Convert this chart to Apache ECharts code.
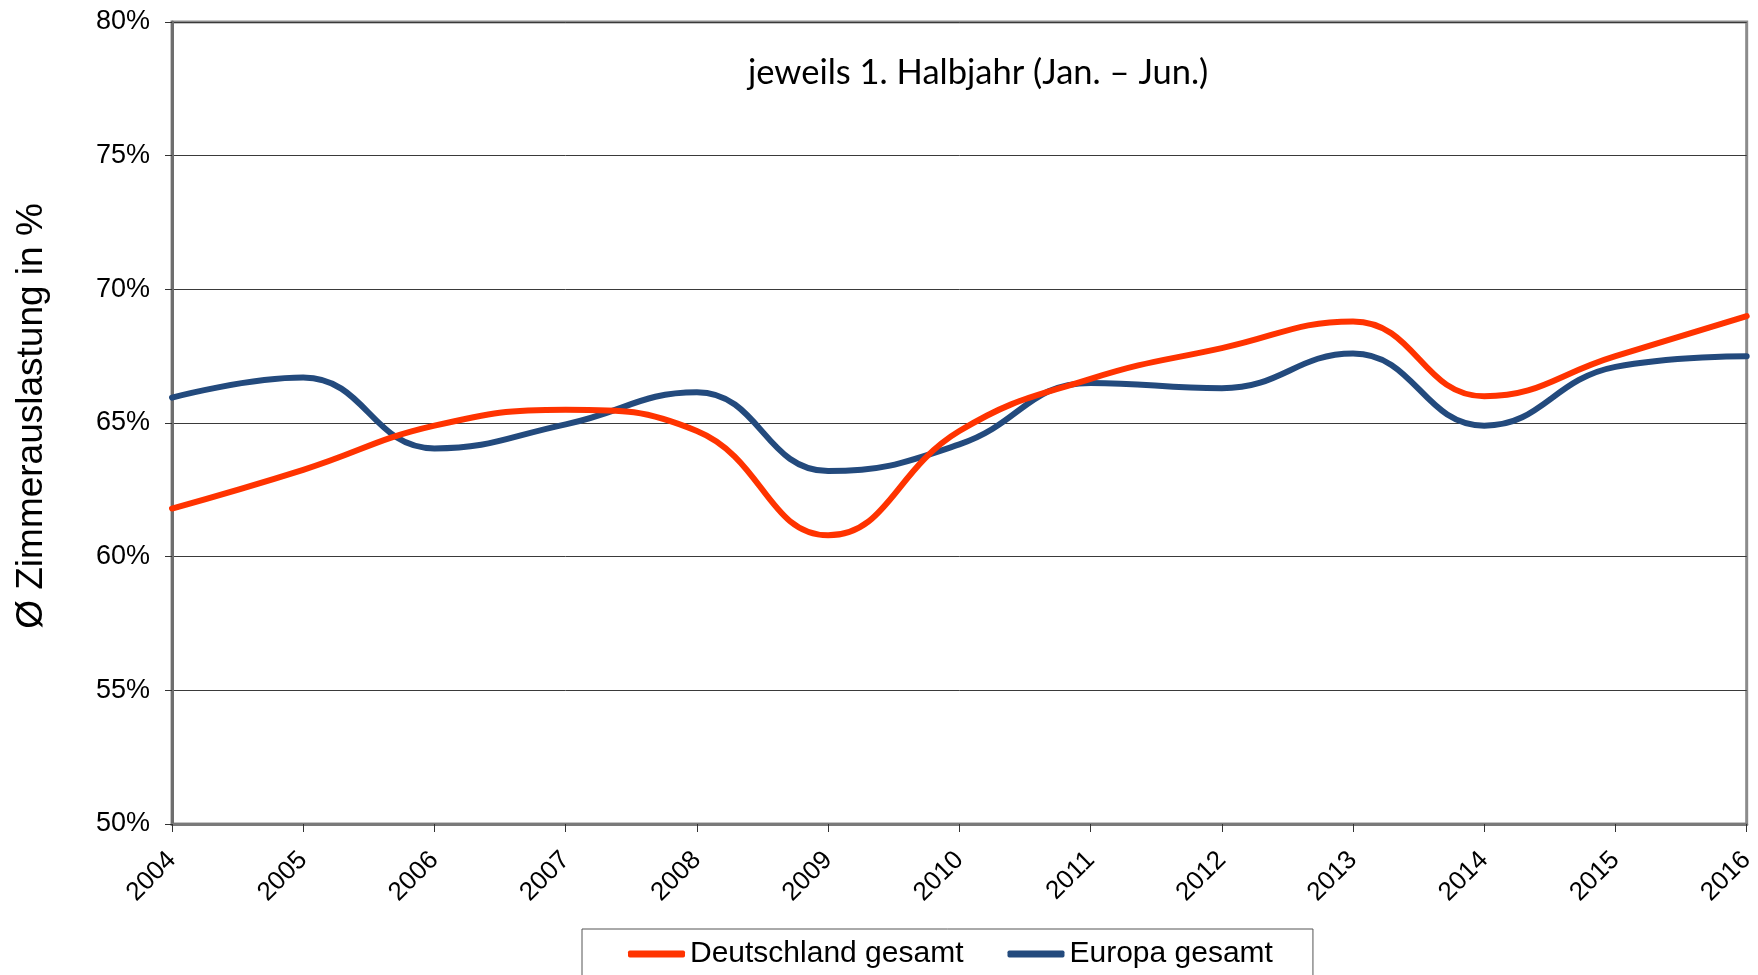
<!DOCTYPE html>
<html>
<head>
<meta charset="utf-8">
<script src="https://cdn.jsdelivr.net/npm/echarts@6/dist/echarts.min.js"></script>
<style>
  html, body { margin: 0; padding: 0; background: #fff; }
  #chart { width: 1758px; height: 975px; }
</style>
</head>
<body>
<div id="chart"></div>
<script>
// Years on the category axis
const years = ['2004', '2005', '2006', '2007', '2008', '2009', '2010',
               '2011', '2012', '2013', '2014', '2015', '2016'];

// Average room occupancy in %, first half-year (Jan.–Jun.)
const deutschland = [61.8, 63.25, 64.9, 65.5, 64.7, 60.8, 64.7,
                     66.65, 67.8, 68.8, 66.0, 67.5, 69.0];
const europa = [65.95, 66.7, 64.05, 64.95, 66.15, 63.2, 64.2,
                66.5, 66.3, 67.6, 64.9, 67.1, 67.5];

// Value axis
const yMin = 50, yMax = 80, yStep = 5;

const seriesNames = ['Deutschland gesamt', 'Europa gesamt'];
const subtitle = 'jeweils 1. Halbjahr (Jan. \u2013 Jun.)';
const yAxisTitle = '\u00D8 Zimmerauslastung in %';

const chart = echarts.init(document.getElementById('chart'), null, { renderer: 'canvas' });

const font = 'Liberation Sans, Arial, sans-serif';

chart.setOption({
  animation: false,
  backgroundColor: '#ffffff',
  grid: {
    left: 172, right: 8, top: 22, bottom: 151,
    show: true, borderColor: '#8c8c8c', borderWidth: 3
  },
  graphic: [{
    type: 'text',
    left: 748, top: 55,
    style: {
      text: subtitle,
      font: '34.5px Lato, "Open Sans", sans-serif',
      fill: '#000'
    }
  }],
  legend: {
    data: seriesNames,
    left: 582, top: 929,
    padding: [10, 40, 40, 46],
    itemGap: 44,
    itemWidth: 57, itemHeight: 7,
    icon: 'roundRect',
    borderColor: '#555', borderWidth: 1,
    textStyle: { fontFamily: font, fontSize: 30, color: '#000' }
  },
  xAxis: {
    type: 'category',
    data: years,
    boundaryGap: false,
    axisLine: { lineStyle: { color: '#7a7a7a', width: 3 } },
    axisTick: { show: true, length: 8, lineStyle: { color: '#333', width: 1 } },
    axisLabel: {
      rotate: 45, margin: 32,
      fontFamily: font, fontSize: 26, color: '#000'
    },
    splitLine: { show: false }
  },
  yAxis: {
    type: 'value',
    min: yMin, max: yMax, interval: yStep,
    name: yAxisTitle,
    nameLocation: 'middle',
    nameRotate: 90,
    nameGap: 122,
    nameTextStyle: { fontFamily: font, fontSize: 37, color: '#000', padding: [0, 0, 0, 14] },
    axisLine: { show: true, lineStyle: { color: '#6e6e6e', width: 3 } },
    axisTick: { show: true, length: 7, lineStyle: { color: '#333', width: 1 } },
    axisLabel: {
      formatter: '{value}%', margin: 22,
      fontFamily: font, fontSize: 27, color: '#000'
    },
    splitLine: { show: true, lineStyle: { color: '#3a3a3a', width: 1 } }
  },
  series: [
    {
      name: seriesNames[0],
      type: 'line',
      data: deutschland,
      smooth: 0.45,
      showSymbol: false,
      symbol: 'none',
      lineStyle: { color: '#ff3300', width: 6, cap: 'round' },
      itemStyle: { color: '#ff3300' },
      z: 3
    },
    {
      name: seriesNames[1],
      type: 'line',
      data: europa,
      smooth: 0.45,
      showSymbol: false,
      symbol: 'none',
      lineStyle: { color: '#234a7d', width: 6, cap: 'round' },
      itemStyle: { color: '#234a7d' },
      z: 2
    }
  ]
});
</script>
</body>
</html>
